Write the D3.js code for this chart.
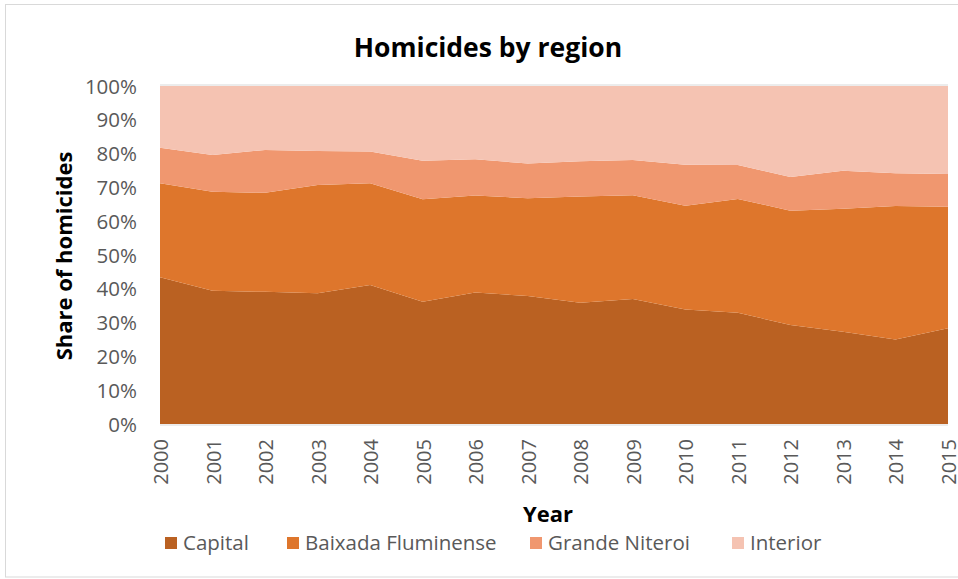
<!DOCTYPE html>
<html>
<head>
<meta charset="utf-8">
<script src="https://cdn.jsdelivr.net/npm/d3@7"></script>
<style>
  html, body { margin: 0; padding: 0; background: #fff; }
  svg { display: block; }
  text { font-family: "Open Sans", "Noto Sans", sans-serif; }
</style>
</head>
<body>
<svg id="chart" width="958" height="579"></svg>
<script>
const years = ["2000","2001","2002","2003","2004","2005","2006","2007","2008","2009","2010","2011","2012","2013","2014","2015"];
const seriesNames = ["Capital", "Baixada Fluminense", "Grande Niteroi", "Interior"];
const capital  = [43.4, 39.4, 39.1, 38.7, 41.1, 36.2, 38.9, 37.9, 35.9, 37.0, 33.9, 32.9, 29.3, 27.3, 25.0, 28.3];
const baixada  = [27.8, 29.3, 29.3, 32.0, 30.1, 30.3, 28.7, 28.9, 31.4, 30.7, 30.7, 33.7, 33.8, 36.4, 39.5, 36.0];
const grande   = [10.5, 10.9, 12.7, 10.1,  9.4, 11.4, 10.7, 10.3, 10.4, 10.4, 12.1, 10.0, 10.0, 11.2,  9.7,  9.7];
const interior = [18.3, 20.4, 18.9, 19.2, 19.4, 22.1, 21.7, 22.9, 22.3, 21.9, 23.3, 23.4, 26.9, 25.1, 25.8, 26.0];
const yTicks = [0, 0.1, 0.2, 0.3, 0.4, 0.5, 0.6, 0.7, 0.8, 0.9, 1.0];
const colors = ["#BA6122", "#DE762C", "#F0976F", "#F5C3B2"];

(function () {
const rows = years.map((yr, i) => {
  const tot = capital[i] + baixada[i] + grande[i] + interior[i];
  return {
    year: yr,
    "Capital": capital[i] / tot,
    "Baixada Fluminense": baixada[i] / tot,
    "Grande Niteroi": grande[i] / tot,
    "Interior": interior[i] / tot
  };
});

const svg = d3.select("#chart");
const pLeft = 160, pRight = 948, pTop = 86, pBottom = 424;

// outer frame
svg.append("rect").attr("x", 5.5).attr("y", 4.5).attr("width", 1000).attr("height", 572.5)
  .attr("fill", "#fff").attr("stroke", "#d9d9d9").attr("stroke-width", 1);

const x = d3.scalePoint().domain(years).range([pLeft, pRight]);
const y = d3.scaleLinear().domain([0, 1]).range([pBottom, pTop]);

const layers = d3.stack().keys(seriesNames)(rows);

const area = d3.area()
  .x(d => x(d.data.year))
  .y0(d => y(d[0]))
  .y1(d => y(d[1]));

// gridlines top & bottom
svg.append("g").selectAll("line").data([0, 1]).join("line")
  .attr("x1", pLeft).attr("x2", pRight)
  .attr("y1", d => y(d) + (d === 0 ? 1 : -1)).attr("y2", d => y(d) + (d === 0 ? 1 : -1))
  .attr("stroke", "#d9d9d9").attr("stroke-width", 1);

svg.append("g").selectAll("path").data(layers).join("path")
  .attr("d", area)
  .attr("fill", (d, i) => colors[i]);

// y axis
const yAxis = d3.axisLeft(y).tickValues(yTicks).tickFormat(d3.format(".0%")).tickSize(0).tickPadding(0);
const gy = svg.append("g").attr("transform", `translate(${pLeft - 23},0)`).call(yAxis);
gy.select(".domain").remove();
gy.selectAll("text").attr("font-size", 20.5).attr("fill", "#595959")
  .attr("font-family", "'Open Sans', sans-serif").attr("dy", "0.35em");

// x axis
const xAxis = d3.axisBottom(x).tickSize(0).tickPadding(0);
const gx = svg.append("g").attr("transform", `translate(0,${pBottom})`).call(xAxis);
gx.select(".domain").remove();
gx.selectAll("text")
  .attr("font-size", 20).attr("fill", "#595959")
  .attr("font-family", "'Open Sans', sans-serif")
  .attr("text-anchor", "end")
  .attr("dy", null).attr("y", 0)
  .attr("dominant-baseline", "central")
  .attr("transform", "translate(0,15) rotate(-90)");

// title
svg.append("text").attr("x", 488).attr("y", 57).attr("text-anchor", "middle")
  .attr("font-size", 26.5).attr("font-weight", "bold").attr("fill", "#000").text("Homicides by region");

// y title
svg.append("text").attr("transform", "translate(72,256) rotate(-90)").attr("text-anchor", "middle")
  .attr("font-size", 22).attr("font-weight", "bold").attr("fill", "#000").text("Share of homicides");

// x title
svg.append("text").attr("x", 548).attr("y", 522).attr("text-anchor", "middle")
  .attr("font-size", 22).attr("font-weight", "bold").attr("fill", "#000").text("Year");

// legend
const legendX = [165, 287, 530, 732];
const lg = svg.append("g").selectAll("g").data(seriesNames).join("g")
  .attr("transform", (d, i) => `translate(${legendX[i]},543)`);
lg.append("rect").attr("x", 0).attr("y", -6).attr("width", 12).attr("height", 12)
  .attr("fill", (d, i) => colors[i]);
lg.append("text").attr("x", 18).attr("y", 0).attr("dy", "0.35em")
  .attr("font-size", 20.5).attr("fill", "#595959").text(d => d);
})();
</script>
</body>
</html>
